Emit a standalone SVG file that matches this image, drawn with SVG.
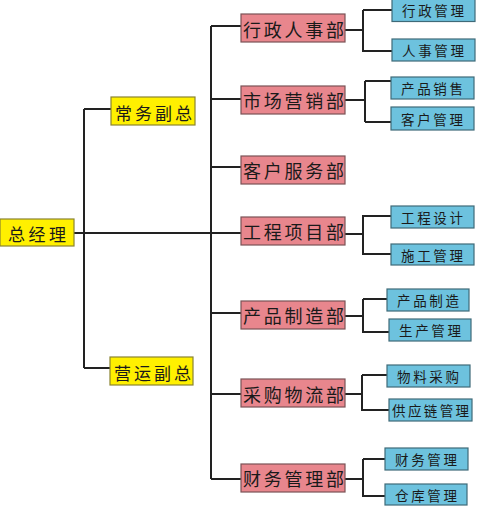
<svg xmlns="http://www.w3.org/2000/svg" width="479" height="513" viewBox="0 0 479 513">
<style>
.y{fill:#FFF000;stroke:#8a8430;stroke-width:1.2}
.p{fill:#E8868D;stroke:#7a5356;stroke-width:1.2}
.b{fill:#6DC2DE;stroke:#3f6a78;stroke-width:1.2}
text{font-family:"Noto Sans CJK SC","Noto Sans CJK JP",sans-serif;fill:#1a1a1a;dominant-baseline:central;text-anchor:start}
.ty{font-size:17px}
.tp{font-size:18px}
.tb{font-size:13.5px}
#connectors path{fill:none;stroke:#222;stroke-width:2}
</style>
<rect width="479" height="513" fill="#fff"/>
<g id="connectors">
<path d="M74 233H241"/>
<path d="M84 109V368M84 109H111M84 368H110"/>
<path d="M211 26V479M211 26H241M211 99H241M211 167H241M211 313H241M211 394H241M211 479H241"/>
<path d="M345 30H363M363 10V52M363 10H392M363 51H392"/>
<path d="M345 100H365M365 81V122M365 81H391M365 122H391"/>
<path d="M345 234H363M363 215V255M363 216H391M363 254H391"/>
<path d="M345 316H363M363 299V333M363 299H387M363 332H389"/>
<path d="M345 394H362M362 375V411M362 375H387M362 410H389"/>
<path d="M345 479H363M363 459V497M363 459H385M363 496H385"/>
</g>
<g id="zongjingli"><rect class="y" x="0" y="219" width="74" height="27"/><text class="ty" x="8" y="233" textLength="58" lengthAdjust="spacing">总经理</text></g>
<g id="changwu"><rect class="y" x="111" y="97" width="84" height="28"/><text class="ty" x="115" y="112" textLength="77" lengthAdjust="spacing">常务副总</text></g>
<g id="yingyun"><rect class="y" x="110" y="357" width="83" height="28"/><text class="ty" x="114" y="372" textLength="77" lengthAdjust="spacing">营运副总</text></g>

<g id="xingzhengrenshi"><rect class="p" x="241" y="14" width="104" height="28"/><text class="tp" x="243" y="29" textLength="101" lengthAdjust="spacing">行政人事部</text></g>
<g id="shichangyingxiao"><rect class="p" x="241" y="86" width="104" height="28"/><text class="tp" x="243" y="100" textLength="101" lengthAdjust="spacing">市场营销部</text></g>
<g id="kehufuwu"><rect class="p" x="241" y="156" width="104" height="28"/><text class="tp" x="243" y="170" textLength="101" lengthAdjust="spacing">客户服务部</text></g>
<g id="gongchengxiangmu"><rect class="p" x="241" y="217" width="104" height="28"/><text class="tp" x="243" y="231" textLength="101" lengthAdjust="spacing">工程项目部</text></g>
<g id="chanpinzhizao"><rect class="p" x="241" y="301" width="104" height="28"/><text class="tp" x="243" y="315" textLength="101" lengthAdjust="spacing">产品制造部</text></g>
<g id="caigouwuliu"><rect class="p" x="241" y="379" width="104" height="28"/><text class="tp" x="243" y="394" textLength="101" lengthAdjust="spacing">采购物流部</text></g>
<g id="caiwuguanli"><rect class="p" x="241" y="464" width="104" height="28"/><text class="tp" x="243" y="478" textLength="101" lengthAdjust="spacing">财务管理部</text></g>

<g id="xingzhengguanli"><rect class="b" x="392" y="-1" width="83" height="22.5"/><text class="tb" x="402" y="10" textLength="62" lengthAdjust="spacing">行政管理</text></g>
<g id="renshiguanli"><rect class="b" x="392" y="39" width="83" height="22"/><text class="tb" x="402" y="50" textLength="62" lengthAdjust="spacing">人事管理</text></g>
<g id="chanpinxiaoshou"><rect class="b" x="391" y="77" width="83" height="22"/><text class="tb" x="401" y="88" textLength="62" lengthAdjust="spacing">产品销售</text></g>
<g id="kehuguanli"><rect class="b" x="391" y="107" width="83" height="23"/><text class="tb" x="401" y="119" textLength="62" lengthAdjust="spacing">客户管理</text></g>
<g id="gongchengsheji"><rect class="b" x="391" y="206" width="83" height="22"/><text class="tb" x="401" y="217" textLength="62" lengthAdjust="spacing">工程设计</text></g>
<g id="shigongguanli"><rect class="b" x="391" y="244" width="83" height="21"/><text class="tb" x="401" y="255" textLength="62" lengthAdjust="spacing">施工管理</text></g>
<g id="chanpinzhizao2"><rect class="b" x="387" y="289" width="82" height="22"/><text class="tb" x="397" y="300" textLength="62" lengthAdjust="spacing">产品制造</text></g>
<g id="shengchanguanli"><rect class="b" x="389" y="319" width="82" height="22"/><text class="tb" x="399" y="330" textLength="62" lengthAdjust="spacing">生产管理</text></g>
<g id="wuliaocaigou"><rect class="b" x="387" y="365" width="83" height="22"/><text class="tb" x="397" y="376" textLength="62" lengthAdjust="spacing">物料采购</text></g>
<g id="gongyinglian"><rect class="b" x="389" y="399" width="83" height="22"/><text class="tb" x="392" y="410" textLength="77" lengthAdjust="spacing">供应链管理</text></g>
<g id="caiwuguanli2"><rect class="b" x="385" y="448" width="83" height="22"/><text class="tb" x="395" y="459" textLength="62" lengthAdjust="spacing">财务管理</text></g>
<g id="cangkuguanli"><rect class="b" x="385" y="484" width="82" height="21"/><text class="tb" x="395" y="495" textLength="62" lengthAdjust="spacing">仓库管理</text></g>
</svg>
